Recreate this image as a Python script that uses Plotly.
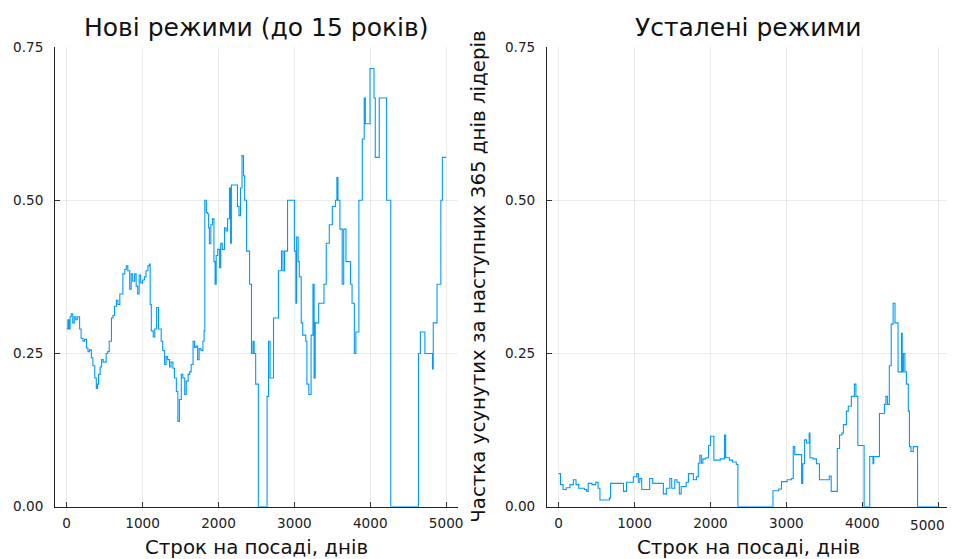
"""Частка усунутих лідерів за строком на посаді: нові та усталені режими"""

import plotly.graph_objects as go

# Нові режими (до 15 років): точки зміни ступінчастої кривої
new_days = [
    0, 15, 30, 45, 60, 80, 100, 120, 140, 170, 190, 215, 235, 260, 280, 300,
    325, 345, 370, 390, 405, 420, 440, 460, 480, 520, 540, 560, 590, 610, 630,
    655, 675, 700, 720, 740, 765, 785, 805, 830, 850, 870, 895, 915, 935, 955,
    975, 1000, 1025, 1045, 1070, 1090, 1100, 1115, 1140, 1160, 1185, 1210,
    1245, 1265, 1290, 1310, 1330, 1355, 1375, 1400, 1420, 1445, 1465, 1485,
    1510, 1530, 1555, 1575, 1600, 1620, 1640, 1665, 1685, 1705, 1725, 1745,
    1770, 1795, 1810, 1820, 1840, 1855, 1870, 1880, 1900, 1920, 1940, 1955,
    1970, 1990, 2015, 2030, 2050, 2080, 2100, 2120, 2145, 2160, 2170, 2250,
    2270, 2290, 2310, 2330, 2345, 2370, 2410, 2435, 2455, 2470, 2490, 2525,
    2640, 2660, 2680, 2725, 2790, 2830, 2850, 2870, 2910, 3000, 3020, 3030,
    3050, 3065, 3090, 3110, 3150, 3165, 3190, 3220, 3245, 3260, 3275, 3320,
    3390, 3420, 3460, 3500, 3540, 3560, 3575, 3600, 3630, 3650, 3680, 3740,
    3760, 3790, 3810, 3850, 3895, 3920, 3935, 3996, 4049, 4066, 4118, 4215,
    4270, 4635, 4660, 4720, 4820, 4830, 4880, 4930, 4950, 5000,
]
new_share = [
    0.29, 0.305, 0.29, 0.31, 0.315, 0.30, 0.31, 0.305, 0.31, 0.29, 0.275,
    0.27, 0.273, 0.259, 0.253, 0.256, 0.243, 0.23, 0.21, 0.193, 0.20, 0.216,
    0.228, 0.24, 0.236, 0.25, 0.253, 0.27, 0.308, 0.312, 0.327, 0.337, 0.33,
    0.347, 0.347, 0.38, 0.387, 0.393, 0.385, 0.355, 0.38, 0.368, 0.38, 0.36,
    0.347, 0.378, 0.365, 0.37, 0.375, 0.385, 0.393, 0.396, 0.33, 0.287,
    0.277, 0.29, 0.325, 0.29, 0.27, 0.255, 0.232, 0.245, 0.24, 0.228, 0.236,
    0.226, 0.21, 0.188, 0.139, 0.175, 0.216, 0.21, 0.183, 0.205, 0.216, 0.22,
    0.232, 0.27, 0.26, 0.262, 0.24, 0.258, 0.255, 0.27, 0.287, 0.50, 0.48,
    0.478, 0.455, 0.429, 0.46, 0.47, 0.40, 0.363, 0.41, 0.42, 0.39, 0.43,
    0.42, 0.455, 0.45, 0.47, 0.52, 0.43, 0.525, 0.49, 0.475, 0.52, 0.573,
    0.54, 0.50, 0.417, 0.363, 0.25, 0.27, 0.25, 0.20, 0.0, 0.18, 0.27, 0.21,
    0.308, 0.385, 0.417, 0.385, 0.417, 0.50, 0.417, 0.332, 0.44, 0.40, 0.375,
    0.30, 0.28, 0.27, 0.20, 0.183, 0.28, 0.363, 0.21, 0.30, 0.332, 0.363,
    0.43, 0.46, 0.49, 0.50, 0.537, 0.50, 0.453, 0.363, 0.453, 0.40, 0.363,
    0.332, 0.25, 0.285, 0.50, 0.60, 0.667, 0.625, 0.715, 0.667, 0.57, 0.667,
    0.50, 0.0, 0.25, 0.285, 0.25, 0.225, 0.30, 0.363, 0.50, 0.57, 0.57,
]

# Усталені режими
old_days = [
    0, 25, 60, 100, 150, 195, 230, 265, 340, 370, 390, 440, 490, 520, 545,
    670, 685, 855, 895, 985, 1030, 1050, 1070, 1095, 1200, 1240, 1380, 1420,
    1465, 1490, 1530, 1560, 1590, 1615, 1680, 1710, 1775, 1815, 1840, 1860,
    1880, 1900, 1940, 1975, 2000, 2045, 2130, 2185, 2200, 2250, 2290, 2340,
    2361, 2823, 2900, 2935, 3010, 3065, 3090, 3110, 3185, 3200, 3215, 3240,
    3265, 3300, 3310, 3350, 3395, 3435, 3565, 3590, 3670, 3700, 3730, 3750,
    3790, 3815, 3855, 3895, 3915, 3940, 4023, 4097, 4140, 4150, 4225, 4290,
    4310, 4330, 4355, 4380, 4405, 4430, 4470, 4515, 4525, 4540, 4560, 4580,
    4605, 4620, 4640, 4670, 4727, 5000,
]
old_share = [
    0.054, 0.036, 0.028, 0.031, 0.036, 0.044, 0.036, 0.03, 0.028, 0.025,
    0.038, 0.036, 0.04, 0.03, 0.011, 0.014, 0.038, 0.025, 0.04, 0.049, 0.054,
    0.04, 0.046, 0.028, 0.046, 0.038, 0.021, 0.03, 0.046, 0.03, 0.044, 0.04,
    0.021, 0.033, 0.04, 0.054, 0.044, 0.049, 0.071, 0.084, 0.071, 0.078,
    0.08, 0.10, 0.115, 0.076, 0.078, 0.117, 0.08, 0.076, 0.073, 0.069, 0.0,
    0.026, 0.029, 0.041, 0.044, 0.046, 0.098, 0.085, 0.085, 0.038, 0.07,
    0.109, 0.104, 0.12, 0.08, 0.078, 0.07, 0.044, 0.05, 0.025, 0.095, 0.117,
    0.12, 0.134, 0.156, 0.164, 0.18, 0.20, 0.18, 0.10, 0.0, 0.082, 0.07,
    0.082, 0.152, 0.167, 0.18, 0.167, 0.23, 0.298, 0.332, 0.30, 0.22, 0.283,
    0.22, 0.25, 0.22, 0.20, 0.156, 0.098, 0.09, 0.098, 0.0, 0.0,
]

y_ticks = [0, 0.25, 0.5, 0.75]
y_tick_labels = ["0.00", "0.25", "0.50", "0.75"]
x_ticks = [0, 1000, 2000, 3000, 4000, 5000]
x_tick_labels = ["0", "1000", "2000", "3000", "4000", "5000"]

LINE_COLOR = "#009AFA"
FONT = "DejaVu Sans"
TICK_FONT = dict(size=13.6, color="#222", family=FONT)
W, H = 955, 559

# знімок сторінки трохи зсунутий і стиснутий відносно фігури
OFF_X, OFF_Y = 8, 16
SC_X, SC_Y = 0.992, 0.968


def _px(x_pix: float) -> float:
    return (x_pix - OFF_X) / SC_X / W


def _py(y_pix: float) -> float:
    return 1 - (y_pix - OFF_Y) / SC_Y / H


def _xaxis(domain: list, ticktext: list) -> dict:
    return dict(
        domain=domain,
        range=[-153, 5153],
        tickvals=x_ticks,
        ticktext=ticktext,
        ticks="inside",
        ticklen=5,
        tickcolor="#333",
        ticklabelstandoff=4,
        showline=True,
        linecolor="#222",
        linewidth=1,
        showgrid=True,
        gridcolor="rgba(0,0,0,0.08)",
        zeroline=False,
        tickfont=TICK_FONT,
    )


def _yaxis(anchor: str) -> dict:
    return dict(
        domain=[_py(505), _py(47)],
        anchor=anchor,
        range=[0, 0.75],
        tickvals=y_ticks,
        ticktext=y_tick_labels,
        ticks="inside",
        ticklen=5,
        tickcolor="#333",
        ticklabelstandoff=8,
        showline=True,
        linecolor="#222",
        linewidth=1,
        showgrid=True,
        gridcolor="rgba(0,0,0,0.08)",
        zeroline=False,
        tickfont=TICK_FONT,
    )


fig = go.Figure()

fig.add_trace(
    go.Scatter(
        x=new_days, y=new_share, mode="lines", line_shape="hv",
        line=dict(color=LINE_COLOR, width=1.1), xaxis="x", yaxis="y",
    )
)
fig.add_trace(
    go.Scatter(
        x=old_days, y=old_share, mode="lines", line_shape="hv",
        line=dict(color=LINE_COLOR, width=1.1), xaxis="x2", yaxis="y2",
    )
)

left_dom = [_px(55), _px(457)]
right_dom = [_px(546), _px(948.3)]

annotations = []
for dom, title in [(left_dom, "Нові режими (до 15 років)"), (right_dom, "Усталені режими")]:
    cx = (dom[0] + dom[1]) / 2
    annotations.append(dict(
        text=title, xref="paper", yref="paper", x=cx, y=_py(27),
        xanchor="center", yanchor="middle", showarrow=False,
        font=dict(size=25, color="#111", family=FONT),
    ))
    annotations.append(dict(
        text="Строк на посаді, днів", xref="paper", yref="paper", x=cx,
        y=_py(546), xanchor="center", yanchor="middle", showarrow=False,
        font=dict(size=19.8, color="#111", family=FONT),
    ))

annotations.append(dict(
    text="Частка усунутих за наступних 365 днів лідерів",
    xref="paper", yref="paper", x=_px(478), y=_py(276),
    xanchor="center", yanchor="middle", textangle=-90, showarrow=False,
    font=dict(size=19.8, color="#111", family=FONT),
))

# останню підпис правої осі трохи зсуваємо, щоб він не обрізався краєм знімка
annotations.append(dict(
    text=x_tick_labels[-1], xref="paper", yref="paper", x=_px(945), y=_py(523),
    xanchor="right", yanchor="middle", showarrow=False, font=TICK_FONT,
))

fig.update_layout(
    width=W,
    height=H,
    margin=dict(l=0, r=0, t=0, b=0),
    paper_bgcolor="white",
    plot_bgcolor="white",
    showlegend=False,
    font=dict(family=FONT),
    xaxis=_xaxis(left_dom, x_tick_labels),
    yaxis=_yaxis("x"),
    xaxis2=dict(_xaxis(right_dom, x_tick_labels[:-1] + [""]), anchor="y2"),
    yaxis2=_yaxis("x2"),
    annotations=annotations,
)

fig.write_html("out.html")
